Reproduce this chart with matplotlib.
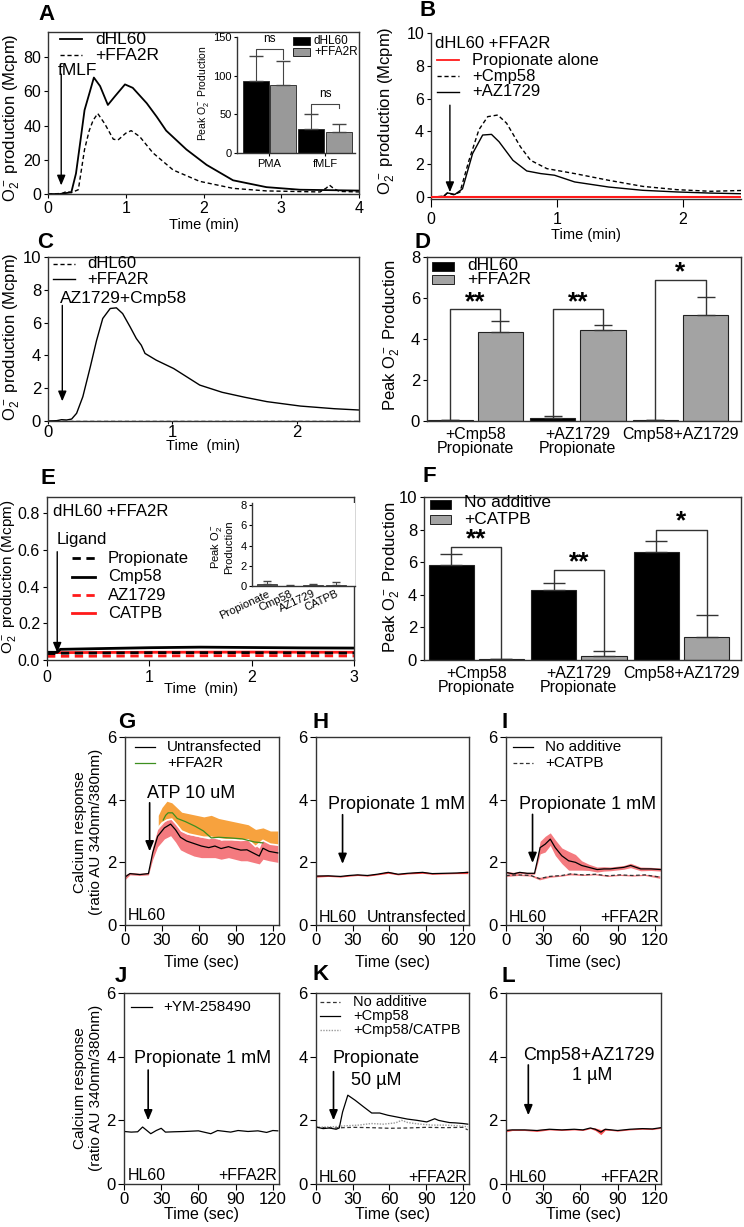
import matplotlib.pyplot as plt
from matplotlib.lines import Line2D
from matplotlib.patches import Rectangle

plt.rcParams['font.family'] = ['Liberation Sans', 'DejaVu Sans']
plt.rcParams['mathtext.fontset'] = 'custom'
plt.rcParams['mathtext.rm'] = 'Liberation Sans'
plt.rcParams['mathtext.it'] = 'Liberation Sans:italic'
plt.rcParams['axes.linewidth'] = 1.0
plt.rcParams['xtick.major.size'] = 4
plt.rcParams['ytick.major.size'] = 4

O2 = r'O$_2^-$'

# ---------------- data ----------------
# A: fMLF response (min, Mcpm)
a_t_dhl60 = [0, 0.15, 0.3, 0.36, 0.42, 0.47, 0.54, 0.59, 0.67, 0.77, 0.86, 0.99, 1.09, 1.27,
             1.4, 1.52, 1.78, 2.04, 2.38, 2.81, 3.24, 4.0]
a_dhl60 = [0, 0, 1, 12, 32, 49, 60, 68, 63, 52, 57, 64, 62, 53, 45, 37, 26, 17, 8, 4, 2.5, 2]
a_t_ffa2r = [0, 0.18, 0.24, 0.3, 0.39, 0.47, 0.53, 0.58, 0.64, 0.73, 0.84, 0.9, 1.0, 1.07, 1.18,
             1.35, 1.61, 1.95, 2.38, 2.81, 3.5, 3.58, 3.62, 3.68, 3.75, 4.0]
a_ffa2r = [0, 0.3, 1.5, 0.8, 2.5, 26, 37, 43, 47, 41, 32, 31.5, 35.5, 37, 33.5,
           24, 14, 7.4, 3.3, 1.8, 1.2, 3.5, 5.2, 3.0, 1.5, 1.2]
ins_groups = ['PMA', 'fMLF']
ins_dhl60 = [93, 31]
ins_dhl60_err = [33, 19]
ins_ffa2r = [88, 27]
ins_ffa2r_err = [31, 10]

# B
b_t_cmp58 = [0, 0.1, 0.13, 0.18, 0.23, 0.3, 0.38, 0.45, 0.53, 0.6, 0.71, 0.79, 0.92, 1.14,
             1.41, 1.68, 1.95, 2.22, 2.47]
b_cmp58 = [0, 0.04, 0.25, 0.14, 0.3, 2.2, 4.1, 4.9, 5.0, 4.5, 3.06, 2.24, 1.73, 1.43,
           1.02, 0.65, 0.45, 0.35, 0.4]
b_t_az = [0, 0.1, 0.13, 0.19, 0.25, 0.33, 0.41, 0.48, 0.54, 0.65, 0.76, 0.87, 0.98, 1.14,
          1.41, 1.68, 1.95, 2.22, 2.47]
b_az = [0, 0.04, 0.25, 0.16, 0.5, 2.65, 3.78, 3.82, 3.37, 2.24, 1.59, 1.43, 1.33, 0.92,
        0.61, 0.41, 0.31, 0.24, 0.2]
b_t_prop = [0, 2.47]
b_prop = [0.02, 0.02]

# C
c_t_ffa2r = [0, 0.07, 0.11, 0.15, 0.19, 0.23, 0.28, 0.34, 0.39, 0.44, 0.5, 0.55, 0.6, 0.66,
             0.71, 0.75, 0.78, 0.87, 1.01, 1.22, 1.4, 1.58, 1.76, 2.03, 2.3, 2.5]
c_ffa2r = [0, 0.02, 0.08, 0.06, 0.12, 0.47, 1.48, 3.3, 4.9, 6.25, 6.86, 6.9, 6.55, 5.74,
           5.03, 4.62, 4.12, 3.71, 3.2, 2.19, 1.75, 1.45, 1.18, 0.91, 0.75, 0.67]
c_t_dhl60 = [0, 2.5]
c_dhl60 = [0.03, 0.03]

# D
d_groups = ['+Cmp58\nPropionate', '+AZ1729\nPropionate', 'Cmp58+AZ1729']
d_dhl60 = [0.03, 0.15, 0.03]
d_dhl60_err = [0, 0.1, 0]
d_ffa2r = [4.35, 4.42, 5.15]
d_ffa2r_err = [0.55, 0.26, 0.9]
d_sig = ['**', '**', '*']
d_bracket = [5.45, 5.45, 6.86]

# E
e_t_cmp58 = [0, 0.1, 0.13, 0.5, 1.0, 1.5, 2.0, 2.5, 3.0]
e_cmp58 = [0.042, 0.042, 0.058, 0.062, 0.067, 0.07, 0.068, 0.066, 0.065]
e_t_prop = [0, 0.1, 0.13, 1.0, 2.0, 3.0]
e_prop = [0.035, 0.035, 0.037, 0.04, 0.04, 0.038]
e_t_az = [0, 1.0, 2.0, 3.0]
e_az = [0.02, 0.022, 0.024, 0.022]
e_t_catpb = [0, 1.0, 2.0, 3.0]
e_catpb = [0.04, 0.042, 0.043, 0.042]
e_ins_labels = ['Propionate', 'Cmp58', 'AZ1729', 'CATPB']
e_ins_vals = [0.15, 0.03, 0.08, 0.12]
e_ins_err = [0.3, 0.03, 0.12, 0.25]

# F
f_groups = ['+Cmp58\nPropionate', '+AZ1729\nPropionate', 'Cmp58+AZ1729']
f_noadd = [5.85, 4.3, 6.6]
f_noadd_err = [0.65, 0.4, 0.7]
f_catpb = [0.05, 0.25, 1.4]
f_catpb_err = [0, 0.3, 1.35]
f_sig = ['**', '**', '*']
f_bracket = [6.96, 5.5, 8.0]

# G (sec, ratio)
g_t = [0, 4, 12, 19, 22.5, 26.5, 32, 37, 41, 45, 50, 56, 62, 68, 73, 78, 84, 89, 94, 99,
       104, 109, 112, 117, 124]
g_untr = [1.53, 1.64, 1.61, 1.64, 2.31, 2.83, 3.1, 3.22, 3.04, 2.8, 2.68, 2.6, 2.52, 2.47,
          2.52, 2.44, 2.5, 2.44, 2.39, 2.4, 2.3, 2.2, 2.45, 2.35, 2.3]
g_untr_lo = [1.45, 1.6, 1.58, 1.6, 2.1, 2.5, 2.75, 2.85, 2.65, 2.4, 2.3, 2.2, 2.15, 2.15,
             2.15, 2.1, 2.15, 2.1, 2.05, 2.05, 2.0, 1.95, 2.1, 2.05, 2.0]
g_untr_hi = [1.6, 1.68, 1.65, 1.68, 2.5, 3.05, 3.3, 3.4, 3.25, 3.0, 2.9, 2.85, 2.8, 2.75,
             2.8, 2.7, 2.75, 2.7, 2.7, 2.75, 2.6, 2.45, 2.75, 2.6, 2.55]
g_t_band2 = [27, 30, 34, 38, 42, 46, 52, 58, 64, 70, 76, 82, 88, 94, 100, 106, 112, 118, 124]
g_band2_lo = [3.1, 3.25, 3.35, 3.38, 3.2, 3.0, 2.9, 2.85, 2.8, 2.8, 2.75, 2.72, 2.72, 2.7,
              2.72, 2.5, 2.7, 2.58, 2.55]
g_band2_hi = [3.5, 3.75, 3.95, 3.9, 3.75, 3.6, 3.55, 3.5, 3.45, 3.5, 3.4, 3.35, 3.3, 3.25,
              3.2, 3.05, 3.1, 3.0, 3.0]
g_t_ffa2r = [31, 33, 35, 38.5, 42.4, 49, 57, 63.7, 70, 76, 85, 95, 105, 112]
g_ffa2r = [3.35, 3.5, 3.58, 3.58, 3.4, 3.3, 3.15, 3.0, 2.78, 2.8, 2.78, 2.75, 2.65, 2.62]

# H
h_t = [0, 10, 20, 27, 34, 42, 50, 59, 67, 75, 87, 95, 105, 115, 124]
h_vals = [1.56, 1.57, 1.55, 1.58, 1.6, 1.58, 1.62, 1.68, 1.62, 1.65, 1.68, 1.64, 1.65, 1.66, 1.68]
h_sem = [0.03, 0.02, 0.02, 0.02, 0.02, 0.02, 0.02, 0.03, 0.02, 0.02, 0.03, 0.02, 0.02, 0.02, 0.04]

# I
i_t = [0, 6, 11, 17, 23, 25, 27.5, 31.6, 35.7, 39.7, 45, 50.5, 56, 61, 66.8, 73.5, 79, 84,
       95, 100.5, 108.6, 116.8, 124.9]
i_noadd = [1.68, 1.63, 1.68, 1.65, 1.65, 2.0, 2.47, 2.58, 2.74, 2.47, 2.21, 2.05, 2.0, 1.9,
           1.84, 1.77, 1.79, 1.79, 1.84, 1.9, 1.79, 1.79, 1.77]
i_sem = [0.03, 0.05, 0.03, 0.03, 0.03, 0.1, 0.2, 0.25, 0.2, 0.25, 0.25, 0.3, 0.25, 0.15,
         0.1, 0.08, 0.07, 0.06, 0.06, 0.07, 0.06, 0.05, 0.05]
i_t_catpb = [0, 10, 20, 27, 35, 45, 52, 62, 72, 82, 92, 102, 112, 124]
i_catpb = [1.58, 1.6, 1.58, 1.48, 1.55, 1.58, 1.63, 1.6, 1.62, 1.57, 1.6, 1.58, 1.6, 1.53]
i_catpb_sem = [0.03, 0.02, 0.02, 0.04, 0.03, 0.02, 0.03, 0.02, 0.02, 0.02, 0.02, 0.02, 0.02, 0.04]

# J
j_t = [0, 5.8, 11, 15, 21.6, 26, 30, 33.4, 40, 49, 60, 70, 75.5, 86, 92, 100, 108, 115, 120, 124]
j_ym = [1.65, 1.63, 1.64, 1.79, 1.58, 1.68, 1.75, 1.63, 1.64, 1.65, 1.67, 1.58, 1.68, 1.63,
        1.68, 1.65, 1.67, 1.62, 1.68, 1.67]

# K
k_t_cmp58 = [0, 5.8, 11, 16.4, 19, 21.7, 26, 32, 39, 45.5, 52, 58.7, 66.7, 74.6, 82.5, 90.5,
             97, 100, 103.7, 109, 114, 120, 124]
k_cmp58 = [1.79, 1.74, 1.76, 1.72, 1.76, 2.26, 2.79, 2.63, 2.42, 2.23, 2.23, 2.16, 2.1, 2.04,
           2.0, 1.95, 2.05, 2.0, 1.97, 1.93, 1.92, 1.9, 1.88]
k_t_noadd = [0, 15, 30, 45, 60, 75, 90, 105, 120, 124]
k_noadd = [1.78, 1.76, 1.78, 1.77, 1.75, 1.76, 1.78, 1.77, 1.78, 1.7]
k_t_catpb = [0, 15, 25, 35, 45, 55, 65, 70, 75, 85, 95, 105, 115, 124]
k_catpb = [1.78, 1.8, 1.83, 1.85, 1.9, 1.88, 1.92, 2.0, 1.93, 1.88, 1.85, 1.85, 1.83, 1.8]

# L
l_t = [0, 5, 15, 25, 35, 45, 55, 62, 68, 72, 76.5, 80, 85, 90, 100, 110, 118, 125]
l_vals = [1.68, 1.7, 1.7, 1.68, 1.72, 1.7, 1.72, 1.7, 1.76, 1.72, 1.63, 1.72, 1.7, 1.68,
          1.72, 1.74, 1.73, 1.77]
l_sem = [0.04, 0.02, 0.02, 0.03, 0.02, 0.02, 0.02, 0.02, 0.02, 0.04, 0.08, 0.03, 0.02, 0.02,
         0.02, 0.02, 0.02, 0.02]

# ---------------- helpers ----------------
W, H = 744, 1227
fig = plt.figure(figsize=(W / 100, H / 100), dpi=100)
SP = '#333333'


def add_ax(box, frame=True):
    l, t, r, b = box
    ax = fig.add_axes([l / W, 1 - b / H, (r - l) / W, (b - t) / H])
    if not frame:
        ax.spines['top'].set_visible(False)
        ax.spines['right'].set_visible(False)
    for s in ax.spines.values():
        s.set_color(SP)
    ax.tick_params(colors='k', direction='out')
    return ax


def ftext(x, y, s, **kw):
    fig.text(x / W, 1 - y / H, s, **kw)


def fline(x0, x1, y, **kw):
    fig.add_artist(Line2D([x0 / W, x1 / W], [1 - y / H, 1 - y / H],
                          transform=fig.transFigure, **kw))


def fsquare(x0, y0, x1, y1, color):
    fig.add_artist(Rectangle((x0 / W, 1 - y1 / H), (x1 - x0) / W, (y1 - y0) / H,
                             transform=fig.transFigure, facecolor=color,
                             edgecolor='#222222', lw=0.7))


def xlab(ax, box, s, top_px, fs):
    l, t, r, b = box
    ax.set_xlabel(s, fontsize=fs)
    ax.xaxis.set_label_coords(0.5, (b - top_px) / (b - t))


def arrow(ax, x, y0, y1, lw=1.0, hl=0.6, hw=0.25):
    ax.annotate('', xy=(x, y1), xytext=(x, y0),
                arrowprops=dict(arrowstyle='-|>,head_length=%s,head_width=%s' % (hl, hw),
                                color='k', lw=lw, shrinkA=0, shrinkB=0))


def letter(x, y, s):
    ftext(x, y, s, fontsize=16, fontweight='bold', va='center', ha='left')


DASH = (0, (3, 2))

# ---------------- A ----------------
boxA = (48, 32, 359, 194)
axA = add_ax(boxA)
axA.plot(a_t_dhl60, a_dhl60, color='k', lw=1.3)
axA.plot(a_t_ffa2r, a_ffa2r, color='k', lw=1.0, ls=DASH)
axA.set_xlim(0, 4)
axA.set_ylim(0, 94.6)
axA.set_xticks(range(5))
axA.set_yticks(range(0, 81, 20))
axA.tick_params(labelsize=11.5)
axA.tick_params(axis='y', length=3, pad=2)
axA.tick_params(axis='x', length=3, pad=2)
xlab(axA, boxA, 'Time (min)', 218, 10.5)
arrow(axA, 0.17, 70, 5)
axA.text(0.13, 72, 'fMLF', fontsize=12.5, va='center')
fline(60, 82, 39, color='k', lw=1.3)
fline(60, 82, 55, color='k', lw=1.0, ls=DASH)
ftext(95, 39, 'dHL60', fontsize=12.5, va='center')
ftext(95, 55, '+FFA2R', fontsize=12.5, va='center')
ftext(12, 118, O2 + ' production (Mcpm)', rotation=90, ha='center', va='center', fontsize=12)
letter(38, 14, 'A')

# A inset
boxAi = (237, 37, 355, 153)
axAi = add_ax(boxAi, frame=False)
xs = range(len(ins_groups))
axAi.bar([x - 0.245 for x in xs], ins_dhl60, width=0.47, color='k', edgecolor='#222', lw=0.6)
axAi.bar([x + 0.245 for x in xs], ins_ffa2r, width=0.47, color='#999999', edgecolor='#222', lw=0.6)
axAi.errorbar([x - 0.245 for x in xs], ins_dhl60, yerr=[[0, 0], ins_dhl60_err], fmt='none',
              ecolor='#444', elinewidth=0.8, capsize=5)
axAi.errorbar([x + 0.245 for x in xs], ins_ffa2r, yerr=[[0, 0], ins_ffa2r_err], fmt='none',
              ecolor='#444', elinewidth=0.8, capsize=5)
axAi.set_xlim(-0.585, 1.54)
axAi.set_ylim(0, 150)
axAi.set_yticks([0, 50, 100, 150])
axAi.set_xticks(list(xs))
axAi.set_xticklabels(ins_groups)
axAi.tick_params(labelsize=8, length=2.5, pad=1.5)
for i, (top, l1, l2) in enumerate([(134, 125, 122), (63, 51, 58)]):
    axAi.plot([i - 0.245, i - 0.245, i + 0.245, i + 0.245], [l1, top, top, l2], color='#444', lw=0.8)
    axAi.text(i, top + 6, 'ns', ha='center', va='bottom', fontsize=8.5)
fsquare(293, 37, 310, 45, 'k')
fsquare(293, 48, 310, 56, '#999999')
ftext(314, 41, 'dHL60', fontsize=8.5, va='center')
ftext(314, 52, '+FFA2R', fontsize=8.5, va='center')
ftext(204, 93, 'Peak ' + O2 + ' Production', rotation=90, ha='center', va='center', fontsize=7.5)

# ---------------- B ----------------
boxB = (431, 33, 741, 199)
axB = add_ax(boxB, frame=False)
axB.plot(b_t_prop, b_prop, color='#ff1a1a', lw=1.5, zorder=3)
axB.plot(b_t_cmp58, b_cmp58, color='k', lw=1.0, ls=DASH)
axB.plot(b_t_az, b_az, color='k', lw=1.0)
axB.set_xlim(0, 2.46)
axB.set_ylim(-0.12, 10)
axB.set_yticks(range(0, 11, 2))
axB.set_xticks([0, 1, 2])
axB.tick_params(labelsize=11.5)
axB.tick_params(axis='x', length=6)
axB.tick_params(axis='y', length=3, pad=2)
xlab(axB, boxB, 'Time (min)', 228, 10.5)
arrow(axB, 0.15, 5.6, 0.3)
ftext(435, 43, 'dHL60 +FFA2R', fontsize=12, va='center')
fline(437, 459, 60, color='#ff1a1a', lw=1.3)
fline(437, 459, 76, color='k', lw=1.0, ls=DASH)
fline(437, 459, 92, color='k', lw=1.0)
ftext(472, 60, 'Propionate alone', fontsize=12, va='center')
ftext(472, 76, '+Cmp58', fontsize=12, va='center')
ftext(472, 92, '+AZ1729', fontsize=12, va='center')
ftext(387, 111, O2 + ' production (Mcpm)', rotation=90, ha='center', va='center', fontsize=12)
letter(419, 11, 'B')

# ---------------- C ----------------
boxC = (48, 257, 359, 421)
axC = add_ax(boxC)
axC.plot(c_t_dhl60, c_dhl60, color='k', lw=1.0, ls=DASH)
axC.plot(c_t_ffa2r, c_ffa2r, color='k', lw=1.0)
axC.set_xlim(0, 2.5)
axC.set_ylim(0, 10)
axC.set_yticks(range(0, 11, 2))
axC.set_xticks([0, 1, 2])
axC.tick_params(labelsize=12)
axC.tick_params(axis='x', length=2, pad=1)
axC.tick_params(axis='y', length=3, pad=2)
xlab(axC, boxC, 'Time  (min)', 439, 10.5)
arrow(axC, 0.115, 7.05, 1.2)
axC.text(0.1, 7.45, 'AZ1729+Cmp58', fontsize=12.5, va='center')
fline(53, 75, 264, color='k', lw=1.0, ls=DASH)
fline(53, 75, 279, color='k', lw=1.0)
ftext(87, 264, 'dHL60', fontsize=12, va='center')
ftext(87, 279, '+FFA2R', fontsize=12, va='center')
ftext(12, 337, O2 + ' production (Mcpm)', rotation=90, ha='center', va='center', fontsize=12)
letter(37, 243, 'C')


# ---------------- D & F (bar panels) ----------------
def bar_panel(box, xlim, ylim, yticks, blk, blk_err, gry, gry_err, groups, sig, brk, star_y,
              gray_col, cap):
    ax = add_ax(box)
    xs = list(range(len(groups)))
    xb = [x - 0.245 for x in xs]
    xg = [x + 0.245 for x in xs]
    ax.bar(xb, blk, width=0.44, color='k', edgecolor='#222', lw=0.8, zorder=2)
    ax.bar(xg, gry, width=0.44, color=gray_col, edgecolor='#222', lw=0.8, zorder=2)
    ax.errorbar(xb, blk, yerr=[[0] * len(blk), blk_err], fmt='none', ecolor='#333',
                elinewidth=1.0, capsize=cap, zorder=3)
    ax.errorbar(xg, gry, yerr=[[0] * len(gry), gry_err], fmt='none', ecolor='#333',
                elinewidth=1.0, capsize=cap, zorder=3)
    for i in xs:
        y_l = blk[i] + blk_err[i]
        y_r = gry[i] + gry_err[i]
        ax.plot([xb[i], xb[i], xg[i], xg[i]], [y_l, brk[i], brk[i], y_r], color='#333', lw=1.0)
        ax.text(xs[i], star_y[i], sig[i], ha='center', va='baseline', fontsize=19,
                fontweight='bold')
    ax.set_xlim(*xlim)
    ax.set_ylim(*ylim)
    ax.set_yticks(yticks)
    ax.set_xticks(xs)
    ax.set_xticklabels(groups, linespacing=0.95)
    ax.tick_params(axis='y', labelsize=12, length=3, pad=2)
    ax.tick_params(axis='x', labelsize=11.5, length=0, pad=4)
    return ax


boxD = (427, 257, 741, 421)
axD = bar_panel(boxD, (-0.47, 2.59), (0, 8), range(0, 9, 2), d_dhl60, d_dhl60_err,
                d_ffa2r, d_ffa2r_err, d_groups, d_sig, d_bracket, [5.45, 5.45, 6.9],
                '#a3a3a3', 6.5)
fsquare(432, 262, 454, 271, 'k')
fsquare(432, 275, 454, 284, '#a3a3a3')
ftext(467, 265, 'dHL60', fontsize=12.5, va='center')
ftext(467, 280, '+FFA2R', fontsize=12.5, va='center')
ftext(392, 335, 'Peak ' + O2 + ' Production', rotation=90, ha='center', va='center', fontsize=12)
letter(415, 243, 'D')

boxF = (424, 497, 741, 660)
axF = bar_panel(boxF, (-0.51, 2.58), (0, 10), range(0, 11, 2), f_noadd, f_noadd_err,
                f_catpb, f_catpb_err, f_groups, f_sig, f_bracket, [7.0, 5.55, 8.1],
                '#a3a3a3', 8)
fsquare(430, 500, 451, 509, 'k')
fsquare(430, 515, 451, 524, '#a3a3a3')
ftext(464, 503, 'No additive', fontsize=12.5, va='center')
ftext(464, 519, '+CATPB', fontsize=12.5, va='center')
ftext(392, 577, 'Peak ' + O2 + ' Production', rotation=90, ha='center', va='center', fontsize=12)
letter(422, 477, 'F')

# ---------------- E ----------------
boxE = (47, 497, 354, 660)
axE = add_ax(boxE)
axE.plot(e_t_az, e_az, color='#ff1a1a', lw=2.0, ls=DASH)
axE.plot(e_t_catpb, e_catpb, color='#ff1a1a', lw=2.0)
axE.plot(e_t_prop, e_prop, color='k', lw=2.0, ls=DASH)
axE.plot(e_t_cmp58, e_cmp58, color='k', lw=2.0)
axE.set_xlim(0, 3)
axE.set_ylim(0, 0.888)
axE.set_xticks([0, 1, 2, 3])
axE.set_yticks([0, 0.2, 0.4, 0.6, 0.8])
axE.set_yticklabels(['0.0', '0.2', '0.4', '0.6', '0.8'])
axE.tick_params(labelsize=11.5)
axE.tick_params(axis='y', length=3, pad=2)
xlab(axE, boxE, 'Time  (min)', 682, 10.5)
arrow(axE, 0.1, 0.59, 0.04)
ftext(53, 512, 'dHL60 +FFA2R', fontsize=12, va='center')
ftext(57, 539, 'Ligand', fontsize=12, va='center')
for y, col, ls, lab in [(558, 'k', DASH, 'Propionate'), (577, 'k', '-', 'Cmp58'),
                        (595, '#ff1a1a', DASH, 'AZ1729'), (613, '#ff1a1a', '-', 'CATPB')]:
    fline(72, 95, y, color=col, lw=2.0, ls=ls)
    ftext(108, y, lab, fontsize=12, va='center')
ftext(9, 577, O2 + ' production (Mcpm)', rotation=90, ha='center', va='center', fontsize=11)
letter(40, 478, 'E')

boxEi = (252, 503, 355, 586)
axEi = add_ax(boxEi, frame=False)
xe = range(len(e_ins_labels))
axEi.bar(list(xe), e_ins_vals, width=0.85, color='#555555', edgecolor='#222', lw=0.5)
axEi.errorbar(list(xe), e_ins_vals, yerr=[[0] * 4, e_ins_err], fmt='none', ecolor='#444',
              elinewidth=0.7, capsize=3)
axEi.set_xlim(-0.65, 3.83)
axEi.set_ylim(0, 8.2)
axEi.set_yticks([0, 2, 4, 6, 8])
axEi.set_xticks(list(xe))
axEi.set_xticklabels(e_ins_labels, rotation=25, ha='right', rotation_mode='anchor')
axEi.tick_params(labelsize=8, length=2.5, pad=1.5)
axEi.tick_params(axis='x', length=0, pad=2)
ftext(222, 547, 'Peak ' + O2 + '\nProduction', rotation=90, ha='center', va='center',
      fontsize=8, linespacing=1.0)


# ---------------- calcium panels ----------------
def ca_axes(box):
    ax = add_ax(box)
    ax.set_xlim(0, 125)
    ax.set_ylim(0, 6)
    ax.set_xticks([0, 30, 60, 90, 120])
    ax.set_yticks([0, 2, 4, 6])
    ax.tick_params(labelsize=12, length=4, pad=2)
    return ax


RED = '#f47a7f'
row1 = (737, 925)
row2 = (993, 1184)
cols = [(125, 279), (316, 469), (506, 661)]

boxG = (cols[0][0], row1[0], cols[0][1], row1[1])
axG = ca_axes(boxG)
axG.fill_between(g_t, g_untr_lo, g_untr_hi, color=RED, lw=0)
axG.fill_between(g_t_band2, g_band2_lo, g_band2_hi, color='#f7a23e', lw=0)
axG.plot(g_t_band2, g_band2_lo, color='white', lw=1.2)
axG.plot(g_t, g_untr, color='k', lw=0.9)
axG.plot(g_t_ffa2r, g_ffa2r, color='#3d8f1f', lw=0.9)
arrow(axG, 20, 3.9, 2.35, lw=1.2)
axG.text(18, 4.2, 'ATP 10 uM', fontsize=13, va='center')
fline(135, 155, 747, color='k', lw=0.9)
fline(135, 155, 763, color='#3d8f1f', lw=0.9)
ftext(167, 747, 'Untransfected', fontsize=11, va='center')
ftext(167, 763, '+FFA2R', fontsize=11, va='center')

boxH = (cols[1][0], row1[0], cols[1][1], row1[1])
axH = ca_axes(boxH)
axH.fill_between(h_t, [v - s for v, s in zip(h_vals, h_sem)],
                 [v + s for v, s in zip(h_vals, h_sem)], color='#ff3b3b', lw=0)
axH.plot(h_t, h_vals, color='k', lw=0.9)
arrow(axH, 21.7, 3.52, 1.95, lw=1.2)
axH.text(10, 3.84, 'Propionate 1 mM', fontsize=13, va='center')

boxI = (cols[2][0], row1[0], cols[2][1], row1[1])
axI = ca_axes(boxI)
axI.fill_between(i_t, [v - s for v, s in zip(i_noadd, i_sem)],
                 [v + s for v, s in zip(i_noadd, i_sem)], color=RED, lw=0)
axI.fill_between(i_t_catpb, [v - s for v, s in zip(i_catpb, i_catpb_sem)],
                 [v + s for v, s in zip(i_catpb, i_catpb_sem)], color=RED, lw=0)
axI.plot(i_t, i_noadd, color='k', lw=0.9)
axI.plot(i_t_catpb, i_catpb, color='#333', lw=0.9, ls=DASH)
arrow(axI, 21.4, 3.53, 1.98, lw=1.2)
axI.text(10.8, 3.84, 'Propionate 1 mM', fontsize=13, va='center')
fline(513, 533, 747, color='k', lw=0.9)
fline(513, 533, 763, color='#333', lw=0.9, ls=DASH)
ftext(545, 747, 'No additive', fontsize=11, va='center')
ftext(545, 763, '+CATPB', fontsize=11, va='center')

boxJ = (cols[0][0] - 1, row2[0], cols[0][1], row2[1])
axJ = ca_axes(boxJ)
axJ.plot(j_t, j_ym, color='k', lw=0.9)
arrow(axJ, 19.5, 3.58, 2.0, lw=1.2)
axJ.text(8.4, 3.95, 'Propionate 1 mM', fontsize=13, va='center')
fline(131, 152, 1007, color='k', lw=0.9)
ftext(163, 1007, '+YM-258490', fontsize=11, va='center')

boxK = (cols[1][0], row2[0], cols[1][1], row2[1])
axK = ca_axes(boxK)
axK.plot(k_t_noadd, k_noadd, color='#333', lw=0.9, ls=DASH)
axK.plot(k_t_catpb, k_catpb, color='#999', lw=1.0, ls=(0, (1, 1)))
axK.plot(k_t_cmp58, k_cmp58, color='k', lw=0.9)
arrow(axK, 14.3, 3.53, 2.0, lw=1.2)
axK.text(13.2, 3.95, 'Propionate', fontsize=13, va='center')
axK.text(28.3, 3.26, '50 µM', fontsize=13, va='center')
fline(320, 340, 1002, color='#333', lw=0.9, ls=DASH)
fline(320, 340, 1016, color='k', lw=0.9)
fline(320, 340, 1030, color='#999', lw=1.0, ls=(0, (1, 1)))
ftext(353, 1002, 'No additive', fontsize=10.5, va='center')
ftext(353, 1016, '+Cmp58', fontsize=10.5, va='center')
ftext(353, 1030, '+Cmp58/CATPB', fontsize=10.5, va='center')

boxL = (cols[2][0], row2[0], cols[2][1], row2[1])
axL = ca_axes(boxL)
axL.fill_between(l_t, [v - s for v, s in zip(l_vals, l_sem)],
                 [v + s for v, s in zip(l_vals, l_sem)], color='#ff5555', lw=0)
axL.plot(l_t, l_vals, color='k', lw=0.9)
arrow(axL, 18, 3.74, 2.16, lw=1.2)
axL.text(14, 4.05, 'Cmp58+AZ1729', fontsize=13, va='center')
axL.text(53, 3.42, '1 µM', fontsize=13, va='center')

for ax, box in [(axG, boxG), (axH, boxH), (axI, boxI)]:
    xlab(ax, box, 'Time (sec)', 955, 11.5)
for ax, box in [(axJ, boxJ), (axK, boxK), (axL, boxL)]:
    xlab(ax, box, 'Time (sec)', 1207, 11.5)

# bottom corner labels
for (l, r), y, right in [(cols[0], 915, None), (cols[1], 917, 'Untransfected'),
                         (cols[2], 917, '+FFA2R'), (cols[0], 1175, '+FFA2R'),
                         (cols[1], 1177, '+FFA2R'), (cols[2], 1177, '+FFA2R')]:
    ftext(l + 3, y, 'HL60', fontsize=11.5, va='center')
    if right:
        ftext(r - 2, y, right, fontsize=11.5, va='center', ha='right')

ylab_ca = 'Calcium response\n(ratio AU 340nm/380nm)'
ftext(88, 832, ylab_ca, rotation=90, ha='center', va='center', fontsize=11, linespacing=1.1)
ftext(88, 1088, ylab_ca, rotation=90, ha='center', va='center', fontsize=11, linespacing=1.1)

letter(118, 722, 'G')
letter(312, 722, 'H')
letter(502, 722, 'I')
letter(115, 977, 'J')
letter(313, 975, 'K')
letter(502, 977, 'L')

fig.savefig('out.png', dpi=100)
